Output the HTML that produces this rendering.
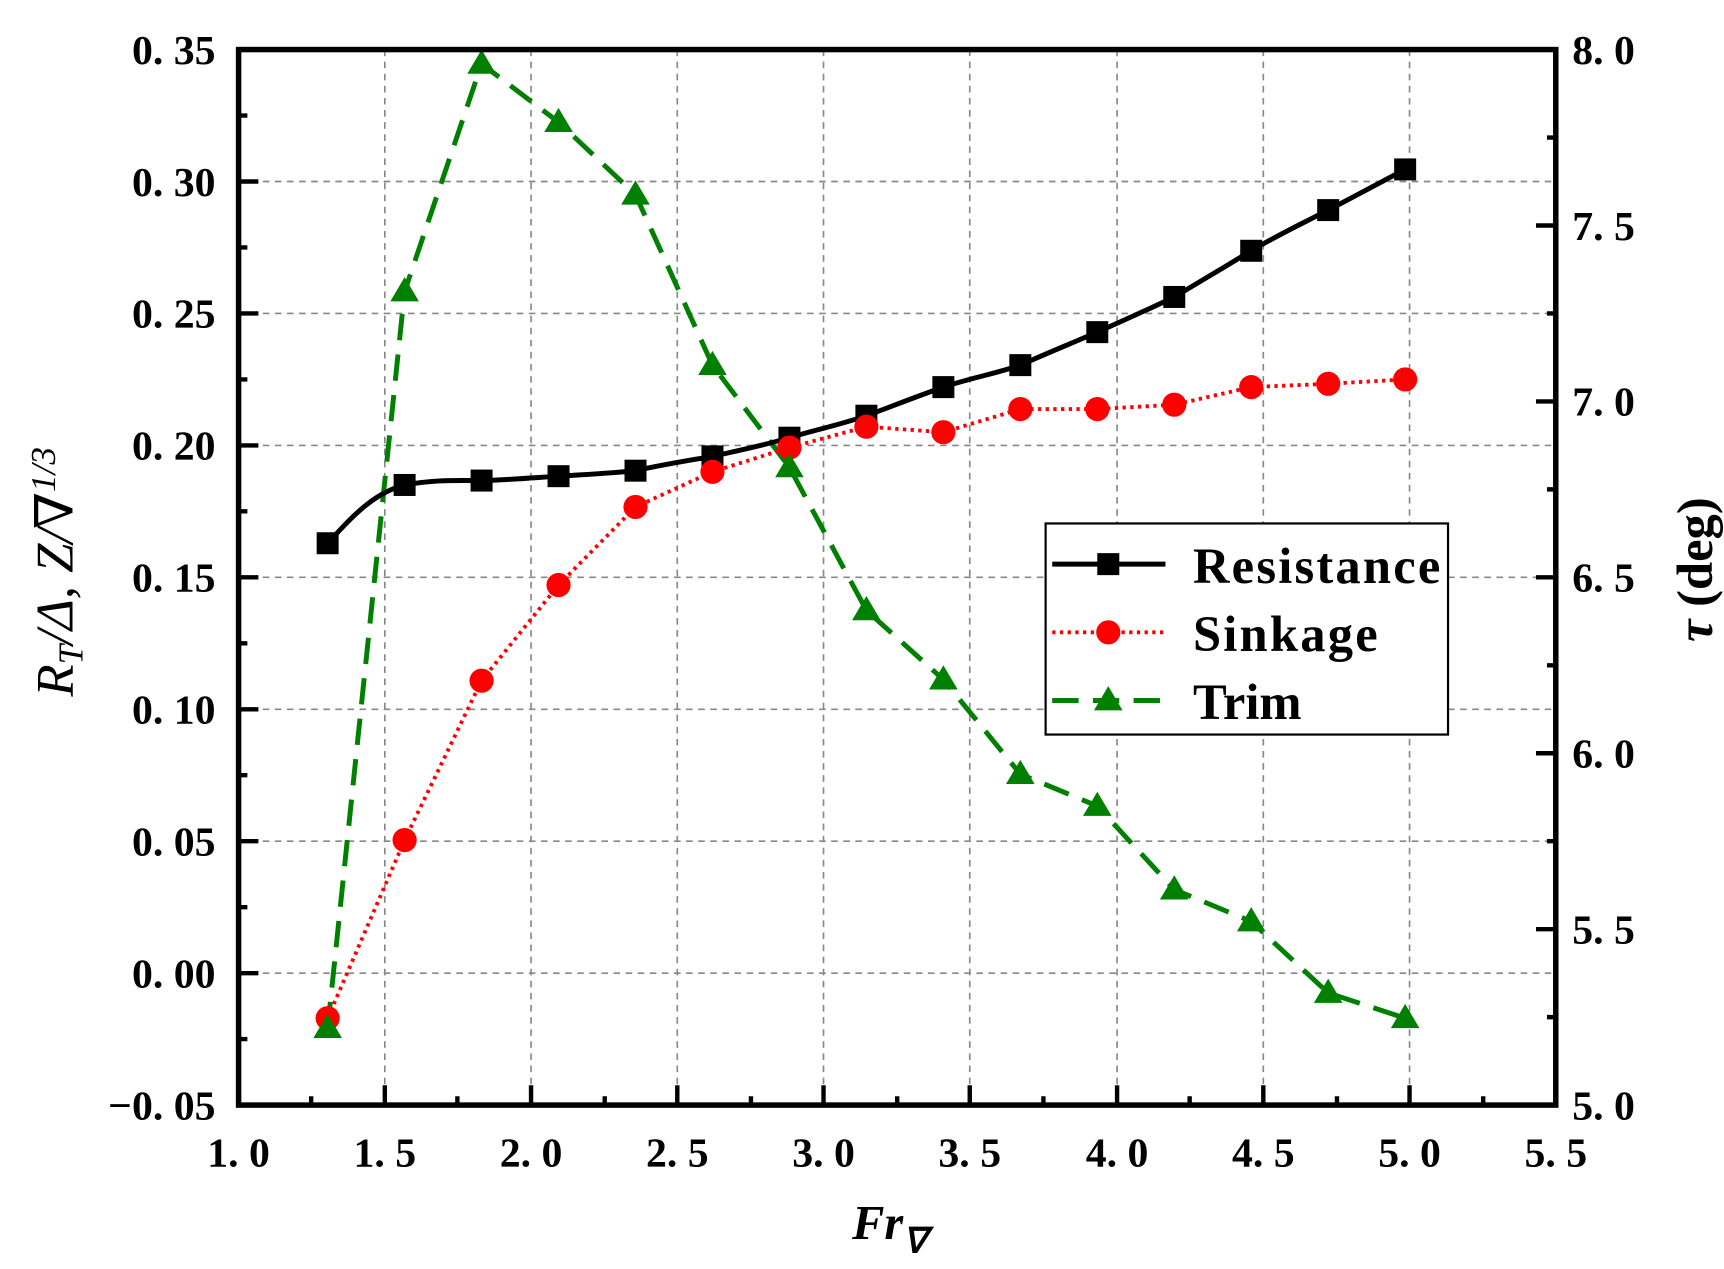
<!DOCTYPE html>
<html><head><meta charset="utf-8"><style>
html,body{margin:0;padding:0;background:#fff;}
svg{display:block;}
.t{font-family:"Liberation Serif",serif;font-weight:bold;font-size:38px;fill:#000;}
.lg{font-family:"Liberation Serif",serif;font-weight:bold;font-size:46px;fill:#000;}
</style></head><body>
<svg width="1724" height="1269" viewBox="0 0 1568 1154" xmlns="http://www.w3.org/2000/svg">
<g stroke="#888" stroke-width="1.5" stroke-dasharray="6,5" fill="none">
<path d="M350 45V1005M483 45V1005M616 45V1005M749 45V1005M882 45V1005M1016 45V1005M1149 45V1005M1282 45V1005"/>
<path d="M217 165H1415M217 285H1415M217 405H1415M217 525H1415M217 645H1415M217 765H1415M217 885H1415"/>
</g>
<polyline fill="none" stroke="#008000" stroke-width="4.5" stroke-dasharray="24,13" points="298,935 368,265 438,58 508,111 578,177 648,332 718,425 788,555 858,618 928,704 998,733 1068,809 1138,838 1208,903 1278,926"/>
<path fill="none" stroke="#000" stroke-width="4.5" d="M298,494 C320,470 340,448 368,441 C395,436 415,437 438,437 C470,436 490,434 508,433 C540,431 560,430 578,428 C605,422 625,419 648,415 C675,409 695,405 718,398 C745,390 765,386 788,378 C815,368 835,360 858,352 C885,343 905,340 928,332 C955,320 975,312 998,302 C1025,290 1045,281 1068,270 C1095,254 1115,242 1138,228 C1165,212 1185,203 1208,191 C1235,177 1255,166 1278,154"/>
<polyline fill="none" stroke="#ff0000" stroke-width="3.5" stroke-dasharray="3,4" points="298,926 368,764 438,619 508,532 578,461 648,429 718,407 788,388 858,393 928,372 998,372 1068,368 1138,352 1208,349 1278,345"/>
<g fill="#000">
<rect x="288" y="484" width="20" height="20"/><rect x="358" y="431" width="20" height="20"/><rect x="428" y="427" width="20" height="20"/><rect x="498" y="423" width="20" height="20"/><rect x="568" y="418" width="20" height="20"/><rect x="638" y="405" width="20" height="20"/><rect x="708" y="388" width="20" height="20"/><rect x="778" y="368" width="20" height="20"/><rect x="848" y="342" width="20" height="20"/><rect x="918" y="322" width="20" height="20"/><rect x="988" y="292" width="20" height="20"/><rect x="1058" y="260" width="20" height="20"/><rect x="1128" y="218" width="20" height="20"/><rect x="1198" y="181" width="20" height="20"/><rect x="1268" y="144" width="20" height="20"/>
</g>
<g fill="#ff0000">
<circle cx="298" cy="926" r="11"/><circle cx="368" cy="764" r="11"/><circle cx="438" cy="619" r="11"/><circle cx="508" cy="532" r="11"/><circle cx="578" cy="461" r="11"/><circle cx="648" cy="429" r="11"/><circle cx="718" cy="407" r="11"/><circle cx="788" cy="388" r="11"/><circle cx="858" cy="393" r="11"/><circle cx="928" cy="372" r="11"/><circle cx="998" cy="372" r="11"/><circle cx="1068" cy="368" r="11"/><circle cx="1138" cy="352" r="11"/><circle cx="1208" cy="349" r="11"/><circle cx="1278" cy="345" r="11"/>
</g>
<g fill="#008000">
<path d="M298,922l-13,22h26z M368,252l-13,22h26z M438,45l-13,22h26z M508,98l-13,22h26z M578,164l-13,22h26z M648,319l-13,22h26z M718,412l-13,22h26z M788,542l-13,22h26z M858,605l-13,22h26z M928,691l-13,22h26z M998,720l-13,22h26z M1068,796l-13,22h26z M1138,825l-13,22h26z M1208,890l-13,22h26z M1278,913l-13,22h26z"/>
</g>
<rect x="217" y="45" width="1198" height="960" fill="none" stroke="#000" stroke-width="5"/>
<g stroke="#000" stroke-width="4">
<path d="M217 165h18M217 285h18M217 405h18M217 525h18M217 645h18M217 765h18M217 885h18"/>
<path d="M217 105h8M217 225h8M217 345h8M217 465h8M217 585h8M217 705h8M217 825h8M217 945h8"/>
<path d="M1415 205h-18M1415 365h-18M1415 525h-18M1415 685h-18M1415 845h-18"/>
<path d="M1415 125h-8M1415 285h-8M1415 445h-8M1415 605h-8M1415 765h-8M1415 925h-8"/>
<path d="M350 1005v-18M483 1005v-18M616 1005v-18M749 1005v-18M882 1005v-18M1016 1005v-18M1149 1005v-18M1282 1005v-18"/>
<path d="M283 1005v-8M416 1005v-8M550 1005v-8M683 1005v-8M816 1005v-8M949 1005v-8M1082 1005v-8M1216 1005v-8M1349 1005v-8"/>
</g>
<g class="t" text-anchor="end">
<text x="196" y="58">0. 35</text><text x="196" y="178">0. 30</text><text x="196" y="298">0. 25</text><text x="196" y="418">0. 20</text><text x="196" y="538">0. 15</text><text x="196" y="658">0. 10</text><text x="196" y="778">0. 05</text><text x="196" y="898">0. 00</text><text x="196" y="1018">−0. 05</text>
</g>
<g class="t">
<text x="1430" y="58">8. 0</text><text x="1430" y="218">7. 5</text><text x="1430" y="378">7. 0</text><text x="1430" y="538">6. 5</text><text x="1430" y="698">6. 0</text><text x="1430" y="858">5. 5</text><text x="1430" y="1018">5. 0</text>
</g>
<g class="t" text-anchor="middle">
<text x="217" y="1061">1. 0</text><text x="350" y="1061">1. 5</text><text x="483" y="1061">2. 0</text><text x="616" y="1061">2. 5</text><text x="749" y="1061">3. 0</text><text x="882" y="1061">3. 5</text><text x="1016" y="1061">4. 0</text><text x="1149" y="1061">4. 5</text><text x="1282" y="1061">5. 0</text><text x="1415" y="1061">5. 5</text>
</g>
<text x="775" y="1127" style="font-family:'Liberation Serif',serif;font-weight:bold;font-style:italic;font-size:44px">Fr<tspan font-size="32" dy="12">∇</tspan></text>
<text transform="translate(66,520) rotate(-90)" text-anchor="middle" style="font-family:'Liberation Serif','DejaVu Serif',serif;font-style:italic;font-size:48px">R<tspan font-size="32" dy="9">T</tspan><tspan dy="-9">/Δ, Z/∇</tspan><tspan font-size="32" dy="-16">1/3</tspan></text>
<text transform="translate(1557,518) rotate(-90)" text-anchor="middle" style="font-family:'Liberation Serif',serif;font-weight:bold;font-size:46px"><tspan font-style="italic">τ</tspan> (deg)</text>
<rect x="951" y="476" width="366" height="192" fill="#fff" stroke="#000" stroke-width="2"/>
<path d="M957 513H1060" stroke="#000" stroke-width="4.5"/><rect x="998" y="503" width="20" height="20" fill="#000"/>
<path d="M957 575H1060" stroke="#f00" stroke-width="3.5" stroke-dasharray="3,4"/><circle cx="1008" cy="575" r="11" fill="#f00"/>
<path d="M957 637H1060" stroke="#008000" stroke-width="4.5" stroke-dasharray="24,13"/><path d="M1008,624l-13,22h26z" fill="#008000"/>
<text class="lg" x="1085" y="530" textLength="225">Resistance</text>
<text class="lg" x="1085" y="592" textLength="168">Sinkage</text>
<text class="lg" x="1085" y="654">Trim</text>
</svg>
</body></html>
